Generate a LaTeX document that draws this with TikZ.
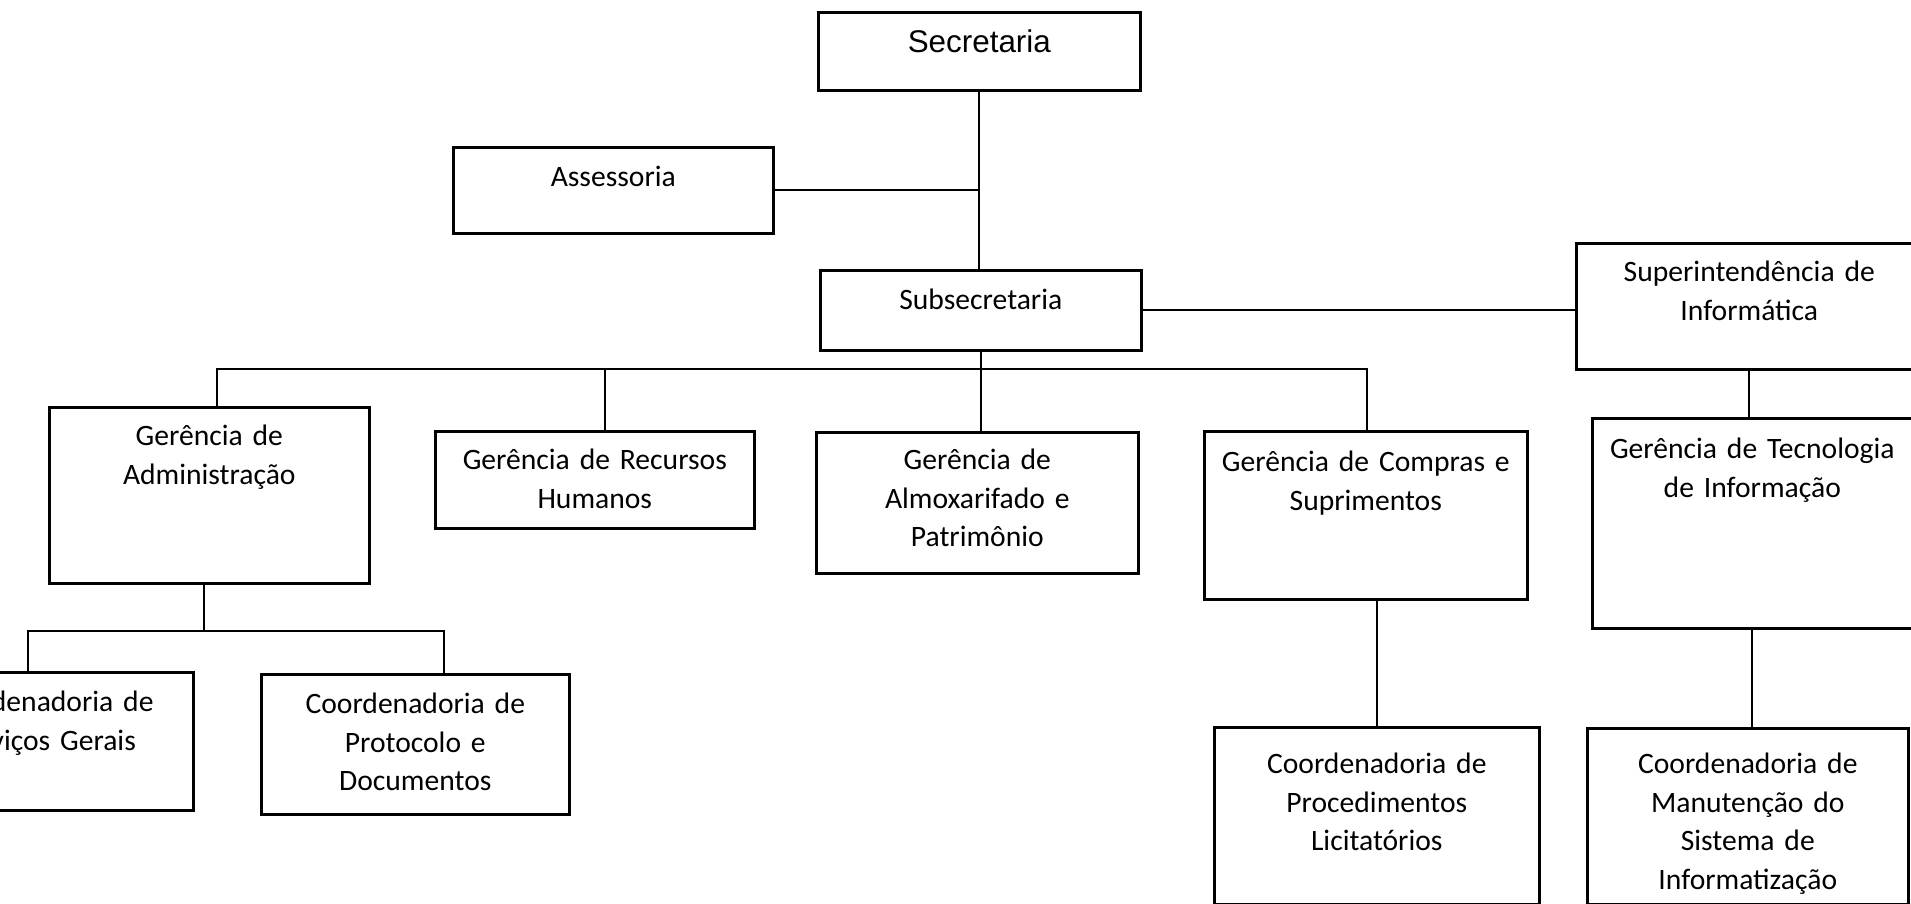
\documentclass[tikz,border=0pt]{standalone}
\usepackage{fontspec}
\newfontfamily\carlito{Carlito}
\newfontfamily\arialfont{Liberation Sans}

\begin{document}
\begin{tikzpicture}[x=1pt, y=-1pt,
	unit/.style={draw, line width=2.6pt, anchor=north west, inner sep=0pt, align=center, font=\carlito\fontsize{29.6}{38.8}\selectfont},
	boxsize/.style n args={3}{text width=#1pt, text height=#2pt, text depth=#3pt},
	link/.style={line width=1.8pt}]
	\useasboundingbox (0,0) rectangle (1911,904);
	\clip (0,0) rectangle (1911,904);

	% nodes
	\node[unit, boxsize={322}{40.7}{37.3}, font=\arialfont\fontsize{31.4}{38}\selectfont] (secr) at (817,11) {Secretaria};
	\node[unit, boxsize={320}{39}{47}] (asses) at (452,146) {Assessoria}; %
	\node[unit, boxsize={321}{39}{41}] (subsec) at (819,269) {Subsecretaria}; %
	\node[unit, boxsize={346}{38}{88}] (super) at (1575,242) {Superintendência de\\Informática}; %
	\node[unit, boxsize={320}{38}{138}] (adm) at (48,406) {Gerência de\\Administração}; %
	\node[unit, boxsize={319}{38}{59}] (rh) at (434,430) {Gerência de Recursos\\Humanos}; %
	\node[unit, boxsize={322}{37}{104}] (almox) at (815,431) {Gerência de\\Almoxarifado e\\Patrimônio}; %
	\node[unit, boxsize={323}{40}{128}] (comp) at (1203,430) {Gerência de Compras e\\Suprimentos}; %
	\node[unit, boxsize={320}{40}{170}] (tec) at (1591,417) {Gerência de Tecnologia\\de Informação}; %
	\node[unit, boxsize={299}{39}{99}] (serv) at (-107,671) {Coordenadoria de\\Serviços Gerais}; %
	\node[unit, boxsize={308}{39}{101}] (prot) at (260,673) {Coordenadoria de\\Protocolo e\\Documentos}; %
	\node[unit, boxsize={325}{46}{131}] (proc) at (1213,726) {Coordenadoria de\\Procedimentos\\Licitatórios}; %
	\node[unit, boxsize={321}{45}{131}] (manut) at (1586,727) {Coordenadoria de\\Manutenção do\\Sistema de\\Informatização}; %

	\coordinate (bus) at ([yshift=-17pt]subsec.south);
	\coordinate (bus2) at ([yshift=-46pt]adm.south);

	% edges
	\draw[link] (secr.south) -- (secr.south |- subsec.north);
	\draw[link] (asses.east) -- (asses.east -| secr.south);
	\draw[link] (subsec.east) -- (subsec.east -| super.west);
	\draw[link] (subsec.south) -- (subsec.south |- almox.north);
	\draw[link] ([xshift=8pt]adm.north) |- (bus) -| ([xshift=1pt]comp.north);
	\draw[link] ([xshift=10pt]rh.north) -- ([xshift=10pt]rh.north |- bus);
	\draw[link] ([xshift=-5pt]adm.south) -- ([xshift=-5pt]adm.south |- bus2);
	\draw[link] ([xshift=-16pt]serv.north) |- (bus2) -| ([xshift=29pt]prot.north);
	\draw[link] (proc.north) -- (proc.north |- comp.south);
	\draw[link] (super.south) -- (super.south |- tec.north);
	\draw[link] (tec.south) -- (tec.south |- manut.north);
\end{tikzpicture}
\end{document}
